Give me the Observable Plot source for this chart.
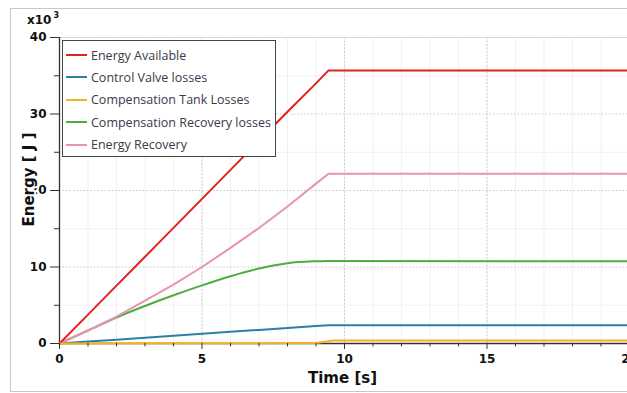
<!DOCTYPE html>
<html>
<head>
<meta charset="utf-8">
<script src="https://cdn.jsdelivr.net/npm/d3@7"></script>
<script src="https://cdn.jsdelivr.net/npm/@observablehq/plot@0.6"></script>
<style>
  html, body { margin: 0; padding: 0; background: #fff; overflow: hidden; width: 627px; height: 393px; }
  #wrap { position: relative; width: 627px; height: 393px; overflow: hidden; }
  #outer { position: absolute; left: 10px; top: 8px; width: 700px; height: 382px; border: 1px solid #c8c8c8; }
  #chart { position: absolute; left: 0; top: 0; width: 660px; height: 393px; }
  #chart svg { max-width: none !important; }
  #mult { position: absolute; left: 27px; top: 12px; font: bold 12px "DejaVu Sans", sans-serif; color: #111; }
  #mult sup { font-size: 8px; position: relative; top: -1px; margin-left: 2px; }
  #legend { position: absolute; left: 62px; top: 40px; width: 214px; height: 117px; border: 1.5px solid #444; background: #fff; box-sizing: border-box; }
  .row { position: absolute; left: 0; height: 20px; display: flex; align-items: center; font: 12.5px "Open Sans", sans-serif; color: #3a3a4a; white-space: nowrap; }
  .sw { width: 21px; height: 2px; margin-left: 3px; margin-right: 4px; }
</style>
</head>
<body>
<div id="wrap">
  <div id="outer"></div>
  <div id="chart"></div>
  <div id="mult">x10<sup>3</sup></div>
  <div id="legend"></div>
</div>
<script>
// Time samples [s]
const time = [0, 1, 2, 3, 4, 5, 6, 7, 8, 9, 9.44, 9.6, 20];
// Energy values in x10^3 J
const energyAvailable   = [0, 3.78, 7.56, 11.34, 15.12, 18.9, 22.7, 26.5, 30.3, 34.0, 35.7, 35.7, 35.7];
const controlValve      = [0, 0.25, 0.5, 0.76, 1.02, 1.28, 1.53, 1.78, 2.03, 2.28, 2.38, 2.38, 2.38];
const compTank          = [0, 0.01, 0.02, 0.02, 0.03, 0.03, 0.04, 0.04, 0.05, 0.06, 0.3, 0.38, 0.38];
const compRecovery      = [0, 1.7, 3.4, 4.9, 6.3, 7.6, 8.8, 9.8, 10.5, 10.75, 10.8, 10.78, 10.75];
const energyRecovery    = [0, 1.7, 3.5, 5.6, 7.7, 10.0, 12.5, 15.1, 17.9, 20.9, 22.2, 22.2, 22.2];

const seriesNames = ["Energy Available", "Control Valve losses", "Compensation Tank Losses", "Compensation Recovery losses", "Energy Recovery"];
const seriesColors = ["#e0231f", "#2c7fa6", "#f5b220", "#4cae3c", "#ea92b4"];
const seriesValues = [energyAvailable, controlValve, compTank, compRecovery, energyRecovery];
const seriesCurves = ["linear", "linear", "linear", "monotone-x", "linear"];

const xMajorTicks = [0, 5, 10, 15, 20];
const xMinorTicks = d3.range(0, 21, 1).filter(d => d % 5 !== 0);
const yMajorTicks = [0, 10, 20, 30, 40];
const yMinorTicks = [5, 15, 25, 35];

const rows = [];
seriesNames.forEach((name, i) => {
  time.forEach((t, j) => rows.push({series: name, t, v: seriesValues[i][j]}));
});
// draw order: tank, valve, recovery losses, recovery, available
const drawOrder = [1, 3, 4, 0, 2];

const font = '"DejaVu Sans", sans-serif';
const chart = Plot.plot({
  width: 660,
  height: 393,
  marginLeft: 59,
  marginRight: 31,
  marginTop: 37,
  marginBottom: 50,
  style: {background: "transparent", fontFamily: font, maxWidth: "none"},
  x: {domain: [0, 20]},
  y: {domain: [0, 40]},
  marks: [
    Plot.ruleX(d3.range(0, 21, 1), {stroke: "#f1f1f1", strokeWidth: 1}),
    Plot.ruleY(yMinorTicks, {stroke: "#f1f1f1", strokeWidth: 1}),
    Plot.ruleX([5, 10, 15, 20], {stroke: "#c9c9c9", strokeDasharray: "1.5,2"}),
    Plot.ruleY([10, 20, 30], {stroke: "#c9c9c9", strokeDasharray: "1.5,2"}),
    Plot.frame({stroke: "#d6d6d6"}),
    Plot.ruleX([0], {stroke: "#333", strokeWidth: 1.3}),
    Plot.ruleY([0], {stroke: "#333", strokeWidth: 1.3}),
    ...drawOrder.map(i => Plot.line(rows.filter(r => r.series === seriesNames[i]), {
      x: "t", y: "v", stroke: seriesColors[i], strokeWidth: 2, curve: seriesCurves[i]
    })),
    Plot.axisY({ticks: yMajorTicks, tickSize: 9, tickPadding: 4, fontSize: 12, fontWeight: "bold", label: null, stroke: "#333", fill: "#111"}),
    Plot.axisY({ticks: yMinorTicks, tickSize: 5, text: null, label: null, stroke: "#333"}),
    Plot.axisX({ticks: xMajorTicks, tickSize: 6, tickPadding: 5, fontSize: 12, fontWeight: "bold", label: null, stroke: "#333", fill: "#111"}),
    Plot.axisX({ticks: xMinorTicks, tickSize: 3.5, text: null, label: null, stroke: "#333"}),
    Plot.text(["Time [s]"], {frameAnchor: "bottom", dy: 39, fontSize: 15, fontWeight: "bold", fill: "#111", textAnchor: "middle", dx: -2}),
    Plot.text(["Energy [ J ]"], {frameAnchor: "left", textAnchor: "middle", dx: -30, dy: -11, rotate: -90, fontSize: 15, fontWeight: "bold", fill: "#111", stroke: "white", strokeWidth: 4, paintOrder: "stroke"})
  ]
});
document.getElementById("chart").appendChild(chart);

const legend = document.getElementById("legend");
seriesNames.forEach((name, i) => {
  const row = document.createElement("div");
  row.className = "row";
  row.style.top = (4 + i * 22.4) + "px";
  const sw = document.createElement("div");
  sw.className = "sw";
  sw.style.background = seriesColors[i];
  const label = document.createElement("span");
  label.textContent = name;
  row.appendChild(sw);
  row.appendChild(label);
  legend.appendChild(row);
});
</script>
</body>
</html>
